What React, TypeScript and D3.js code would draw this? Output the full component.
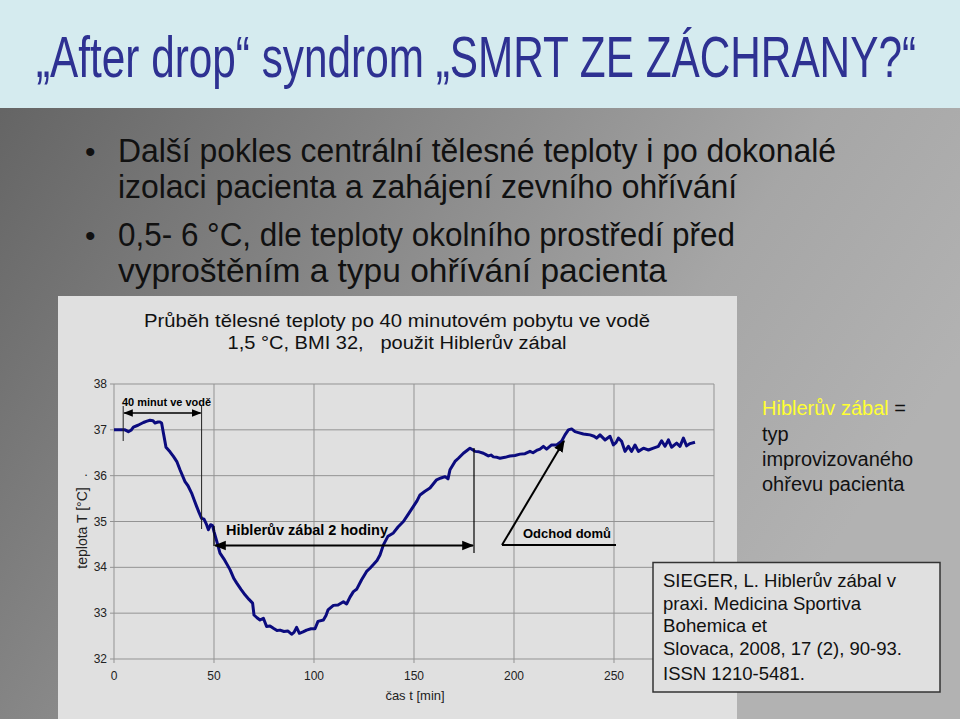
import React from "react";
import * as d3 from "d3";

const times = [0,3,5.5,7.2,8.5,9.7,12,14.7,16.5,18,19.5,20.5,22,23,23.8,24.7,26,28,29.7,31.5,33,35.5,37,38.8,40,41.3,42.5,43.8,45,46.3,47.2,48.3,49.3,50,51.5,53,55,58,60,61.3,63.5,65.5,67.5,69.3,70,71.5,73,74.7,76.3,78,79.7,81.5,83,85,87,88.8,90,91.3,92.7,94.5,96.3,98.5,100.5,102,104.7,106,107,109.7,112,114.7,116.3,118,119.7,121.3,123.8,126.3,128,129.7,131.5,133,134.7,137,139.7,142,144.7,147,149.7,151.5,153,155.5,158,160,161.3,163.5,165.5,167,168,170.5,172.2,174.7,176.5,178,179.5,180.5,182.5,184.7,186,187.2,188.5,189.7,191.5,193,195.5,198,200.5,203,205.5,208,209.5,211.3,213,214.7,216.3,218.8,221.3,223.8,225.5,227.2,228.8,230.5,232.2,234.7,236.5,238,240,241.3,243,245.5,248,249.7,251,252.2,253.8,255.5,257.2,258.8,260.5,262.2,264.7,267.2,269.7,272.2,273.8,275.5,277.2,278.8,281.3,283,284.7,286.3,288,290.5];
const temps = [37.0,37.0,37.0,36.96,36.99,37.06,37.10,37.16,37.19,37.21,37.20,37.15,37.17,37.17,37.15,36.93,36.62,36.52,36.42,36.30,36.13,35.87,35.78,35.62,35.48,35.33,35.20,35.07,35.05,34.93,34.82,34.93,34.91,34.78,34.55,34.31,34.18,33.95,33.75,33.66,33.52,33.40,33.30,33.22,32.96,32.90,32.85,32.89,32.71,32.72,32.67,32.62,32.63,32.60,32.61,32.54,32.58,32.69,32.56,32.59,32.63,32.66,32.66,32.82,32.85,32.95,33.07,33.17,33.18,33.25,33.20,33.35,33.47,33.52,33.73,33.91,33.98,34.06,34.15,34.27,34.49,34.68,34.75,34.88,35.0,35.15,35.33,35.45,35.58,35.66,35.73,35.84,35.91,35.95,35.98,35.93,36.13,36.31,36.38,36.49,36.55,36.60,36.56,36.53,36.52,36.49,36.46,36.43,36.45,36.41,36.40,36.38,36.40,36.43,36.44,36.47,36.48,36.53,36.50,36.55,36.58,36.64,36.58,36.67,36.67,36.75,36.89,37.0,37.02,36.96,36.94,36.91,36.90,36.89,36.86,36.82,36.89,36.78,36.86,36.67,36.72,36.82,36.75,36.53,36.64,36.53,36.67,36.53,36.60,36.56,36.60,36.64,36.76,36.64,36.78,36.62,36.71,36.64,36.82,36.65,36.70,36.73];

const xTicks = [0, 50, 100, 150, 200, 250, 300];
const xTickLabels = ["0", "50", "100", "150", "200", "250", ""];
const yTicks = [32, 33, 34, 35, 36, 37, 38];

const titleText = "„After drop“ syndrom „SMRT ZE ZÁCHRANY?“";
const bulletLines = [
  "Další pokles centrální tělesné teploty i po dokonalé",
  "izolaci pacienta a zahájení zevního ohřívání",
  "0,5- 6 °C, dle teploty okolního prostředí před",
  "vyproštěním a typu ohřívání pacienta",
];
const chartTitle = ["Průběh tělesné teploty po 40 minutovém pobytu ve vodě", "1,5 °C, BMI 32,   použit Hiblerův zábal"];
const sideLines = ["typ", "improvizovaného", "ohřevu pacienta"];
const refLines = ["SIEGER, L. Hiblerův zábal v", "praxi. Medicina Sportiva", "Bohemica et", "Slovaca, 2008, 17 (2), 90-93.", "ISSN 1210-5481."];

// annotation anchors in data units (minutes)
const waterStart = 4.6, waterEnd = 43.8;
const wrapStart = 50, wrapEnd = 180;
const homeFrom = 194, homeTo = 225, homeLineEnd = 251;

const NARROW = "'Liberation Sans Narrow', 'Arial Narrow', 'Liberation Sans', Arial, sans-serif";
const SANS = "'Liberation Sans', Arial, Helvetica, sans-serif";

export default function App() {
  const x = d3.scaleLinear().domain([0, 300]).range([114, 714]);
  const y = d3.scaleLinear().domain([32, 38]).range([659, 384]);
  const pts = times.map((t, i) => [t, temps[i]] as [number, number]);
  const line = d3.line<[number, number]>().x(d => x(d[0])).y(d => y(d[1]))(pts) || "";

  const bulletBase = [162, 198, 246, 282];
  const bulletWidths = [718, 619, 617, 549];
  const refBase = [587, 610, 632, 655, 680];
  const refWidths = [233, 198, 104, 239, 142];

  return (
    <svg width={960} height={719} style={{ position: "absolute", left: 0, top: 0, display: "block" }}>
      <defs>
        <linearGradient id="bg" x1="0" y1="0" x2="1" y2="0.5">
          <stop offset="0" stopColor="#5f5f5f" />
          <stop offset="0.75" stopColor="#a6a6a6" />
          <stop offset="1" stopColor="#b2b2b2" />
        </linearGradient>
        <marker id="ah" viewBox="0 0 10 10" refX="9" refY="5" markerWidth="6" markerHeight="6" orient="auto-start-reverse">
          <path d="M0,1 L10,5 L0,9 z" fill="#000" />
        </marker>
      </defs>
      <rect x={0} y={0} width={960} height={719} fill="url(#bg)" />
      <rect x={0} y={0} width={960} height={108} fill="#d5ebef" />
      <text x={36} y={77} fontFamily={NARROW} fontSize={58} fill="#2e3192" textLength={880} lengthAdjust="spacingAndGlyphs">{titleText}</text>

      {bulletLines.map((s, i) => (
        <text key={i} x={118} y={bulletBase[i]} fontFamily={NARROW} fontSize={33} fill="#111" textLength={bulletWidths[i]} lengthAdjust="spacingAndGlyphs">{s}</text>
      ))}
      <text x={85} y={162} fontFamily={SANS} fontSize={30} fill="#111">•</text>
      <text x={85} y={246} fontFamily={SANS} fontSize={30} fill="#111">•</text>

      {/* chart panel */}
      <rect x={58} y={296} width={679} height={423} fill="#e0e0e0" />
      {chartTitle.map((s, i) => (
        <text key={i} x={397} y={i === 0 ? 327 : 349} textAnchor="middle" fontFamily={SANS} fontSize={18} fill="#111" textLength={i === 0 ? 506 : 339} lengthAdjust="spacingAndGlyphs" style={{ whiteSpace: "pre" }}>{s}</text>
      ))}

      {/* grid */}
      {yTicks.map(t => (
        <g key={"y" + t}>
          <line x1={110} x2={714} y1={y(t)} y2={y(t)} stroke="#939393" strokeWidth={1} />
          <text x={107} y={y(t) + 4} textAnchor="end" fontFamily={SANS} fontSize={12} fill="#222">{t}</text>
        </g>
      ))}
      {xTicks.map((t, i) => (
        <g key={"x" + t}>
          <line x1={x(t)} x2={x(t)} y1={384} y2={663} stroke="#939393" strokeWidth={1} />
          {xTickLabels[i] && (
            <text x={x(t)} y={680} textAnchor="middle" fontFamily={SANS} fontSize={12} fill="#222">{xTickLabels[i]}</text>
          )}
        </g>
      ))}
      <text x={415} y={700} textAnchor="middle" fontFamily={SANS} fontSize={13} fill="#222">čas t [min]</text>
      <text transform="translate(87,528) rotate(-90)" textAnchor="middle" fontFamily={SANS} fontSize={14} fill="#222">teplota T [°C]</text>
      <text x={86} y={476} textAnchor="middle" fontFamily={SANS} fontSize={13} fill="#222">.</text>

      {/* data */}
      <path d={line} fill="none" stroke="#0b0b7e" strokeWidth={3} strokeLinejoin="round" />

      {/* 40 minutes annotation */}
      <line x1={x(waterStart)} x2={x(waterStart)} y1={406} y2={441} stroke="#222" strokeWidth={1} />
      <line x1={x(waterEnd)} x2={x(waterEnd)} y1={406} y2={529} stroke="#222" strokeWidth={1} />
      <line x1={x(waterStart) + 1} x2={x(waterEnd) - 1} y1={413} y2={413} stroke="#000" strokeWidth={1.6} markerStart="url(#ah)" markerEnd="url(#ah)" />
      <text x={122} y={406} fontFamily={SANS} fontSize={11} fontWeight="bold" fill="#000" textLength={89} lengthAdjust="spacingAndGlyphs">40 minut ve vodě</text>

      {/* wrap annotation */}
      <line x1={x(wrapStart)} x2={x(wrapStart)} y1={526} y2={546} stroke="#000" strokeWidth={1.2} />
      <line x1={x(wrapEnd)} x2={x(wrapEnd)} y1={448} y2={553} stroke="#000" strokeWidth={1.2} />
      <line x1={x(wrapStart) + 1} x2={x(wrapEnd) - 1} y1={545.5} y2={545.5} stroke="#000" strokeWidth={2} markerStart="url(#ah)" markerEnd="url(#ah)" />
      <text x={226} y={535} fontFamily={SANS} fontSize={14} fontWeight="bold" fill="#000" textLength={162} lengthAdjust="spacingAndGlyphs">Hiblerův zábal 2 hodiny</text>

      {/* home annotation */}
      <line x1={x(homeFrom)} x2={x(homeLineEnd)} y1={545} y2={545} stroke="#000" strokeWidth={2} />
      <line x1={x(homeFrom)} x2={x(homeTo)} y1={545} y2={441} stroke="#000" strokeWidth={2} markerEnd="url(#ah)" />
      <text x={523} y={538} fontFamily={SANS} fontSize={13} fontWeight="bold" fill="#000" textLength={88} lengthAdjust="spacingAndGlyphs">Odchod domů</text>

      {/* side text */}
      <text x={762} y={415} fontFamily={SANS} fontSize={20}>
        <tspan fill="#ffff33">Hiblerův zábal</tspan>
        <tspan fill="#111"> =</tspan>
      </text>
      {sideLines.map((s, i) => (
        <text key={i} x={762} y={441 + i * 25} fontFamily={SANS} fontSize={20} fill="#111">{s}</text>
      ))}

      {/* reference box */}
      <rect x={653} y={562.5} width={287} height={129.5} fill="#e0e0e0" stroke="#333" strokeWidth={1.5} />
      {refLines.map((s, i) => (
        <text key={i} x={663} y={refBase[i]} fontFamily={SANS} fontSize={19} fill="#111" textLength={refWidths[i]} lengthAdjust="spacingAndGlyphs">{s}</text>
      ))}
    </svg>
  );
}
